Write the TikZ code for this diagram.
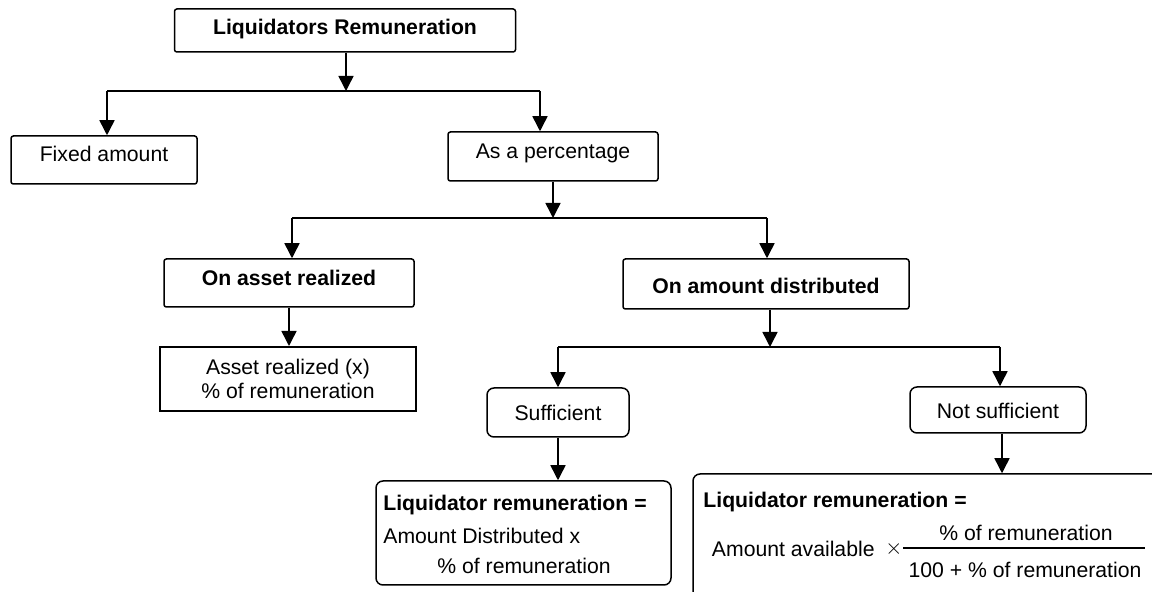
\documentclass[tikz,border=0pt]{standalone}
\usepackage{fontspec}
\setmainfont{Liberation Sans}
\usetikzlibrary{arrows.meta}
\begin{document}
\begin{tikzpicture}[x=0.5pt,y=-0.5pt,
  every node/.style={font=\fontsize{10.6}{12}\selectfont},
  box/.style={draw, line width=0.75pt, rounded corners=1.2pt, inner sep=0pt, align=center},
  roundbox/.style={box, rounded corners=3.5pt},
  sharpbox/.style={box, rounded corners=0pt, line width=1pt},
  lift/.style={text height=7.6pt, text depth=#1},
  txt/.style={inner sep=0pt, anchor=west},
  link/.style={line width=0.75pt},
  arr/.style={link, -{Triangle[length=7.5pt,width=7.5pt]}},
]
\useasboundingbox (0,0) rectangle (1152,592);
\clip (0,0) rectangle (1152,592);

% boxes
\node[box, lift=4pt, minimum width=170.5pt, minimum height=21.5pt] (root) at (345,30.5) {\textbf{Liquidators Remuneration}};
\node[box, lift=6.5pt, minimum width=93pt, minimum height=24pt] (fixed) at (104,160) {Fixed amount};
\node[box, lift=6pt, minimum width=105pt, minimum height=24.5pt] (pct) at (553,156.5) {As a percentage};
\node[box, lift=5pt, minimum width=125pt, minimum height=24pt] (asset) at (289,283) {\textbf{On asset realized}};
\node[box, text height=10pt, text depth=0pt, minimum width=143pt, minimum height=25pt] (dist) at (766,284) {\textbf{On amount distributed}};
\node[sharpbox, minimum width=128pt, minimum height=32pt] (assetx) at (288,379) {Asset realized (x)\\\% of remuneration};
\node[roundbox, lift=0pt, minimum width=71pt, minimum height=24.5pt] (suff) at (558,412.5) {Sufficient};
\node[roundbox, text height=8.6pt, text depth=0pt, minimum width=88pt, minimum height=23pt] (notsuff) at (998,410) {Not sufficient};
\node[roundbox, minimum width=147.5pt, minimum height=52pt] (sbox) at (523.5,533) {};
\node[roundbox, minimum width=236pt, minimum height=63pt] (nbox) at (929,537) {};

% texts of the two result boxes
\node[txt] (s1) at (383,505) {\textbf{Liquidator remuneration =}};
\node[txt] (s2) at (383,536) {Amount Distributed x};
\node[txt] (s3) at (437,566) {\% of remuneration};
\node[txt] (n1) at (703,502) {\textbf{Liquidator remuneration =}};
\node[inner sep=0pt, anchor=east] (n2) at (875,549) {Amount available};
\node[inner sep=0pt] (times) at (894,549) {$\times$};
\node[inner sep=0pt] (num) at (1026,533) {\% of remuneration};
\node[inner sep=0pt] (den) at (1025,570) {100 + \% of remuneration};
\coordinate (fl) at (903,548);
\coordinate (fr) at (1145,548);
\draw[line width=0.6pt] (fl) -- (fr);

% level 1
\coordinate (j1) at (346,91);
\coordinate (j1l) at (107,91);
\coordinate (j1r) at (540,91);
\draw[arr] (root.south -| j1) -- (j1);
\draw[link] (j1l) -- (j1r);
\draw[arr] (j1l) -- (j1l |- fixed.north);
\draw[arr] (j1r) -- (j1r |- pct.north);

% level 2
\coordinate (j2l) at (292,218);
\coordinate (j2r) at (767,218);
\draw[arr] (pct.south) -- (pct.south |- j2l);
\draw[link] (j2l) -- (j2r);
\draw[arr] (j2l) -- (j2l |- asset.north);
\draw[arr] (j2r) -- (j2r |- dist.north);
\draw[arr] (asset.south) -- (asset.south |- assetx.north);

% level 3
\coordinate (j3l) at (558,347);
\coordinate (j3r) at (1000,347);
\draw[arr] ([xshift=2pt]dist.south) -- ([xshift=2pt]dist.south |- j3l);
\draw[link] (j3l) -- (j3r);
\draw[arr] (j3l) -- (j3l |- suff.north);
\draw[arr] (j3r) -- (j3r |- notsuff.north);
\draw[arr] (suff.south) -- (suff.south |- sbox.north);
\draw[arr] ([xshift=2pt]notsuff.south) -- ([xshift=2pt]notsuff.south |- nbox.north);
\end{tikzpicture}
\end{document}
